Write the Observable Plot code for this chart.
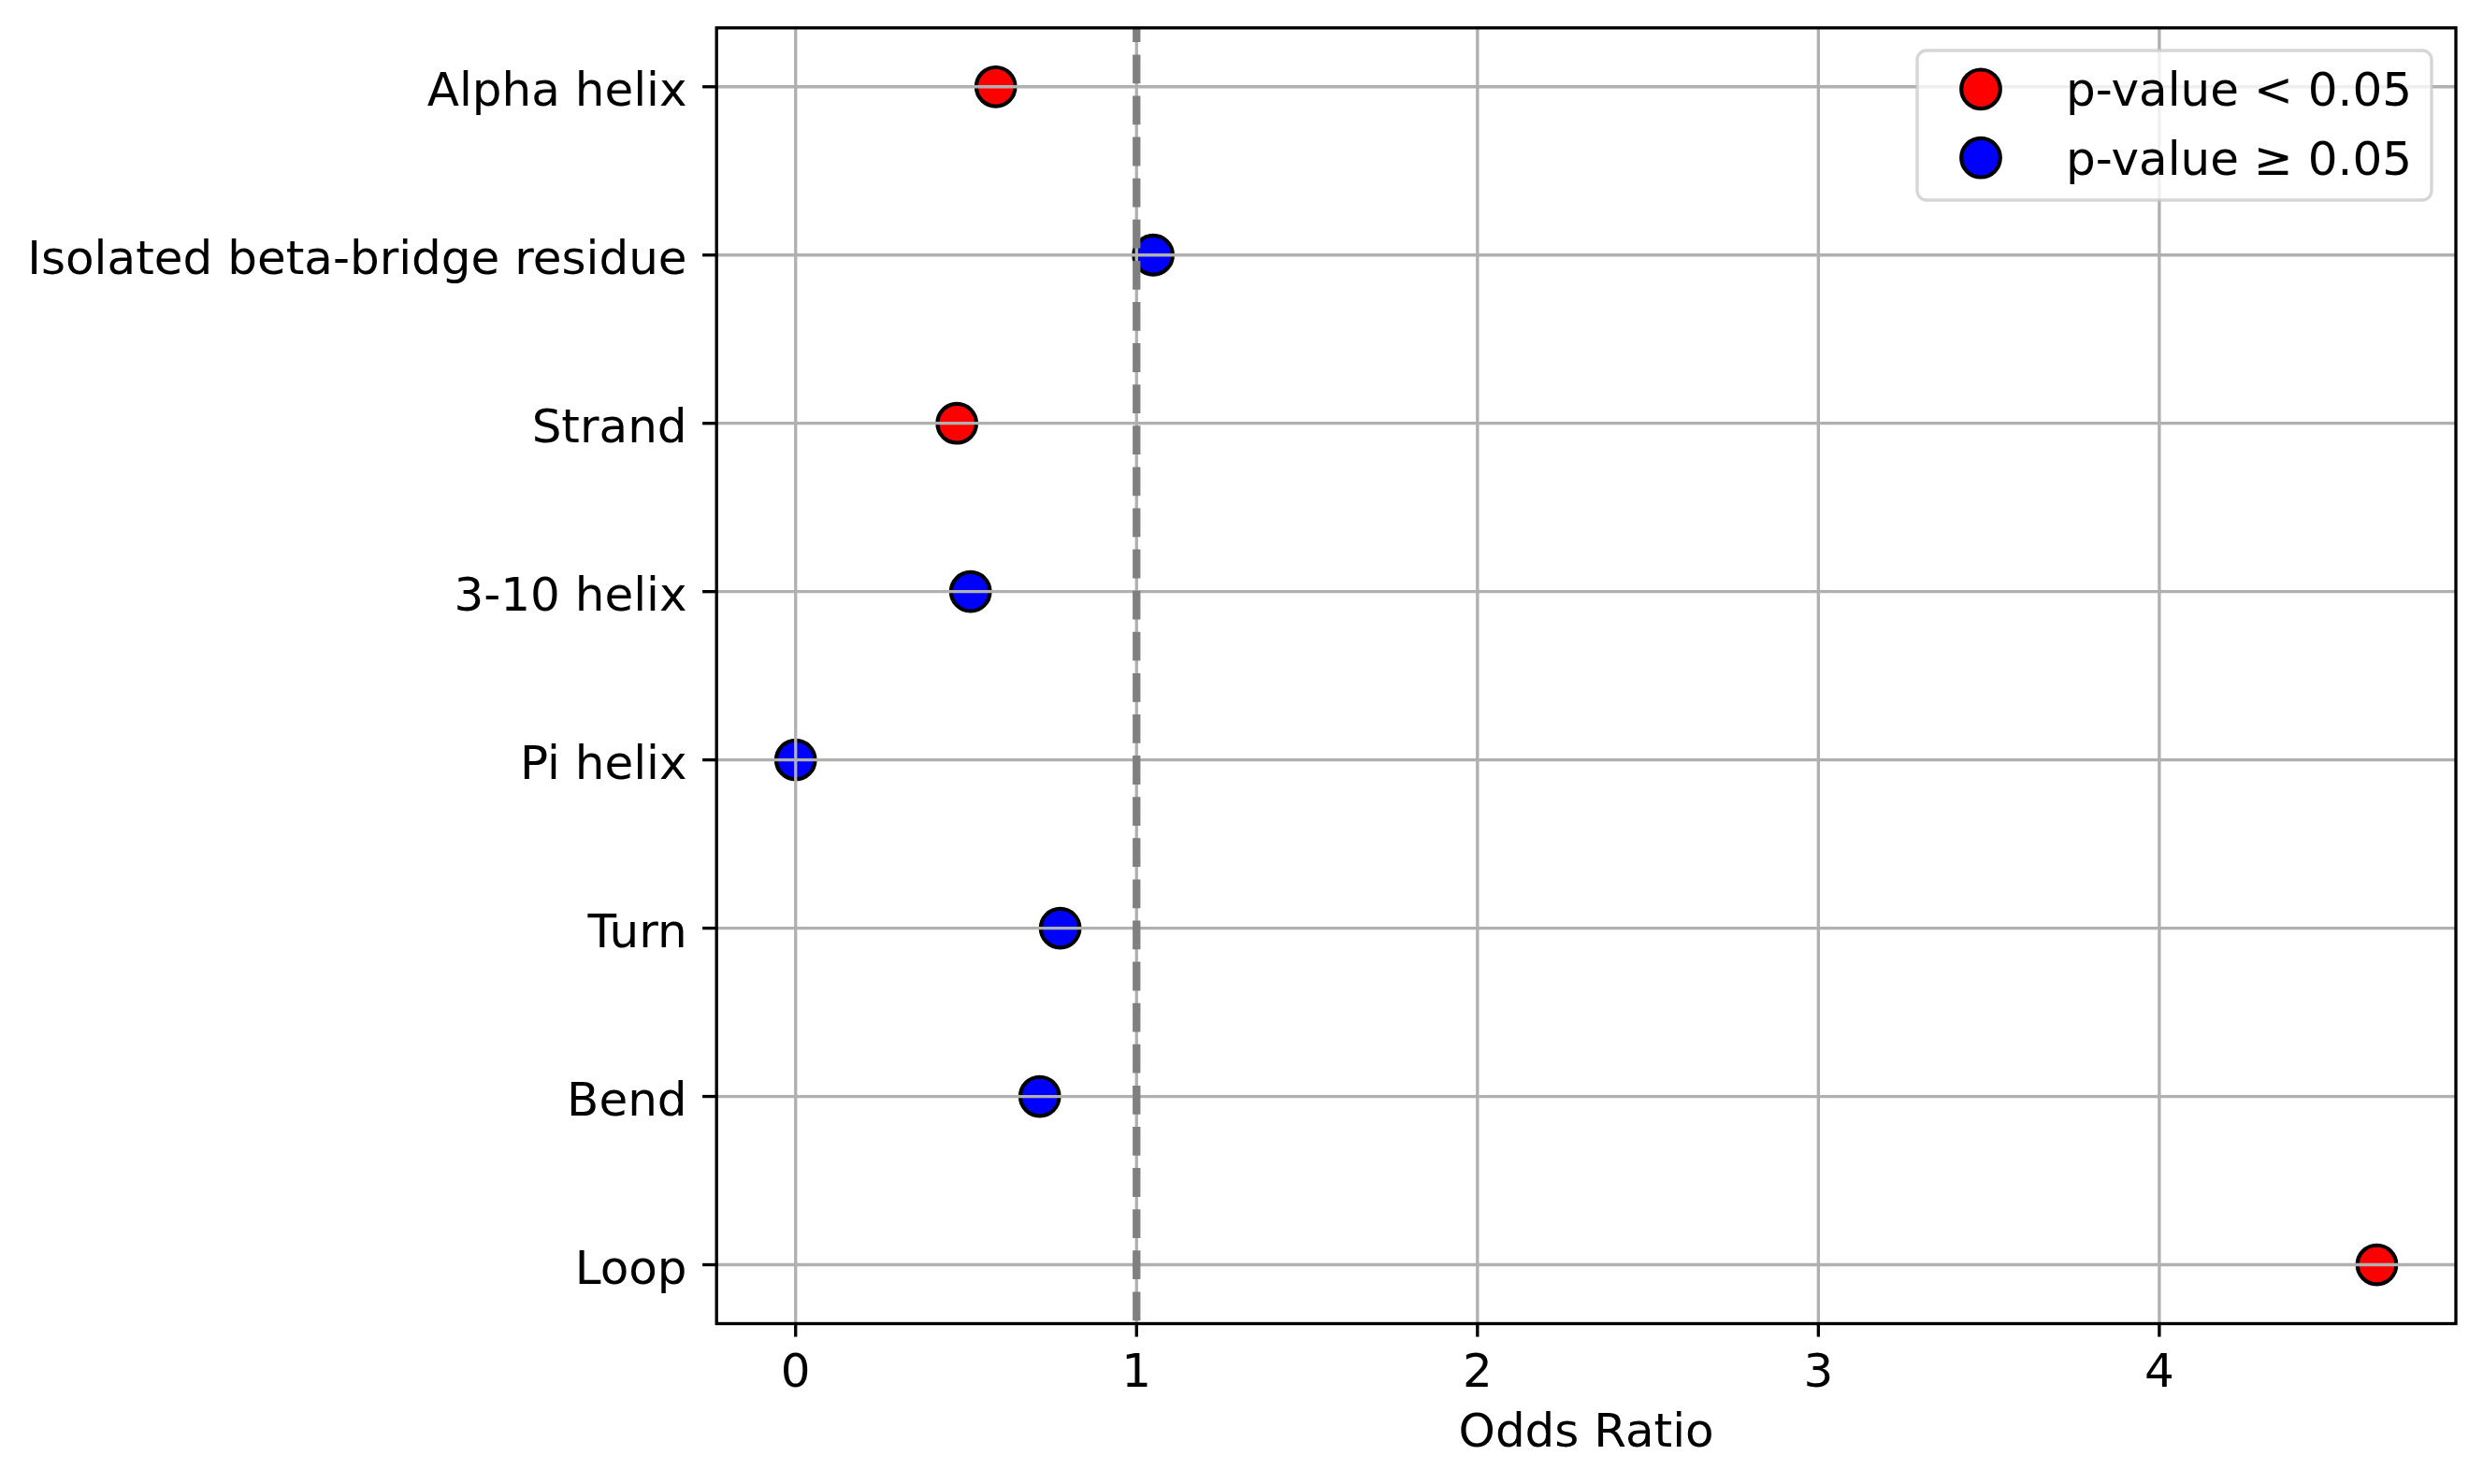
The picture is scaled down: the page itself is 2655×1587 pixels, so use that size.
<!DOCTYPE html>
<html>
<head>
<meta charset="utf-8">
<script src="https://cdn.jsdelivr.net/npm/d3@7"></script>
<script src="https://cdn.jsdelivr.net/npm/@observablehq/plot@0.6"></script>
<style>
  html, body { margin: 0; padding: 0; background: #ffffff; }
  #wrap { position: relative; width: 2655px; height: 1587px; overflow: hidden; }
  #legend { position: absolute; left: 2038px; top: 44px; }
</style>
</head>
<body>
<div id="wrap"></div>
<script>
// ---- data ----
const categories = ["Alpha helix", "Isolated beta-bridge residue", "Strand", "3-10 helix", "Pi helix", "Turn", "Bend", "Loop"];
const oddsRatios = [0.587, 1.049, 0.473, 0.513, 0.0, 0.776, 0.716, 4.638];
const significant = [true, false, true, false, false, false, false, true];
const xTicks = [0, 1, 2, 3, 4];
const legendLabels = ["p-value < 0.05", "p-value \u2265 0.05"];
const legendColors = ["#ff0000", "#0000ff"];
const xLabel = "Odds Ratio";

const data = categories.map((c, i) => ({category: c, or: oddsRatios[i], sig: significant[i]}));

const maxOR = d3.max(oddsRatios);
const xDomain = [-0.05 * maxOR, 1.05 * maxOR];

const chart = Plot.plot({
  width: 2655,
  height: 1587,
  marginLeft: 765.7,
  marginRight: 29.5,
  marginTop: 29.3,
  marginBottom: 172,
  style: {fontFamily: "DejaVu Sans", fontSize: "50px", background: "#ffffff", color: "#000000"},
  x: {domain: xDomain, ticks: xTicks},
  y: {type: "point", domain: categories, padding: 0.35, round: false},
  marks: [
    Plot.dot(data, {
      x: "or", y: "category", r: 20.8,
      fill: d => d.sig ? legendColors[0] : legendColors[1],
      stroke: "#000000", strokeWidth: 4.17
    }),
    Plot.gridX(xTicks, {stroke: "#b0b0b0", strokeOpacity: 1, strokeWidth: 3.33}),
    Plot.gridY(categories, {stroke: "#b0b0b0", strokeOpacity: 1, strokeWidth: 3.33}),
    Plot.ruleX([1], {stroke: "#808080", strokeWidth: 8.33, strokeDasharray: "30.8 13.3", strokeDashoffset: 15}),
    Plot.axisX({ticks: xTicks, tickSize: 14.6, tickPadding: 17, strokeWidth: 3.33, fontSize: 50, label: null, tickFormat: d => String(d)}),
    Plot.axisY({tickSize: 14.6, strokeWidth: 3.33, tickFormat: () => "", label: null}),
    Plot.axisY({tickSize: 0, tickPadding: 31.6, dy: 4, fontSize: 50, label: null}),
    Plot.frame({stroke: "#000000", strokeWidth: 3.33}),
    Plot.text([xLabel], {text: d => d, frameAnchor: "bottom", dy: 96, lineAnchor: "top", fontSize: 50, fill: "#000000"})
  ]
});

const wrap = document.getElementById("wrap");
wrap.appendChild(chart);

// ---- legend (upper right, inside axes) ----
const lg = d3.select(wrap).append("svg")
  .attr("id", "legend")
  .attr("width", 580).attr("height", 190)
  .style("font-family", "DejaVu Sans");
lg.append("rect")
  .attr("x", 12).attr("y", 10).attr("width", 550).attr("height", 160)
  .attr("rx", 10).attr("ry", 10)
  .attr("fill", "#ffffff").attr("fill-opacity", 0.8)
  .attr("stroke", "#cccccc").attr("stroke-opacity", 0.8).attr("stroke-width", 3.33);
const rows = lg.selectAll("g.row").data(legendLabels).join("g")
  .attr("class", "row")
  .attr("transform", (d, i) => `translate(0, ${51.3 + i * 73.4})`);
rows.append("circle")
  .attr("cx", 80).attr("cy", 0).attr("r", 20.8)
  .attr("fill", (d, i) => legendColors[i])
  .attr("stroke", "#000000").attr("stroke-width", 4.17);
rows.append("text")
  .attr("x", 171).attr("y", 18)
  .attr("font-size", 50)
  .attr("fill", "#000000")
  .text(d => d);
</script>
</body>
</html>
